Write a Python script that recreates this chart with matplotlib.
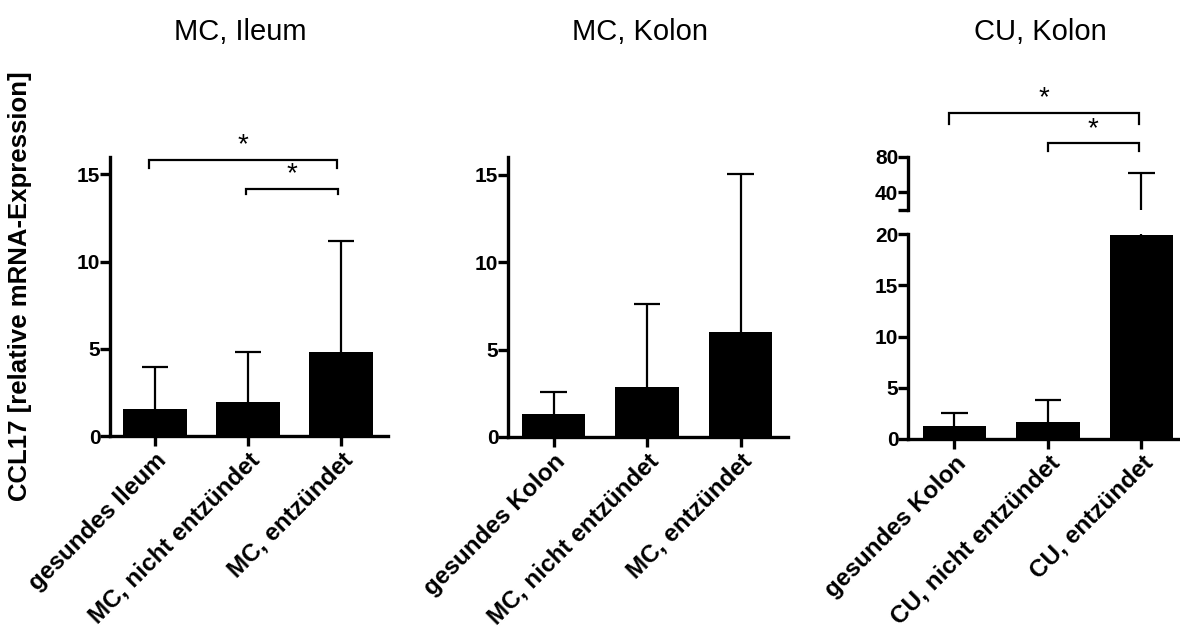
import numpy as np
import matplotlib
matplotlib.use('Agg')
import matplotlib.pyplot as plt

plt.rcParams['font.family'] = ['Liberation Sans', 'DejaVu Sans']

# groups and measured CCL17 expression (mean and upper SD) per tissue
titles = ['MC, Ileum', 'MC, Kolon', 'CU, Kolon']
groups_mc_ileum = ['gesundes Ileum', 'MC, nicht entzündet', 'MC, entzündet']
groups_mc_kolon = ['gesundes Kolon', 'MC, nicht entzündet', 'MC, entzündet']
groups_cu_kolon = ['gesundes Kolon', 'CU, nicht entzündet', 'CU, entzündet']

mean_mc_ileum = [1.55, 1.95, 4.83]
sd_mc_ileum = [2.42, 2.88, 6.37]
mean_mc_kolon = [1.3, 2.86, 6.02]
sd_mc_kolon = [1.27, 4.74, 9.03]
mean_cu_kolon = [1.27, 1.66, 19.9]
sd_cu_kolon = [1.23, 2.14, 42.1]

# significance brackets: (left x, right x, height, leg length)
brackets_mc_ileum = [(-0.07, 1.96, 15.83, 0.46), (0.98, 1.97, 14.16, 0.28)]
brackets_cu_kolon = [(-0.06, 1.97, 129.8, 12.4), (1.0, 1.97, 95.5, 8.7)]

W, H = 1180, 631
BAR_W = 0.68
CAP = 0.14
SPINE_W = 2.4


def px_axes(fig, left, right, top, bottom):
    return fig.add_axes([left / W, 1 - bottom / H, (right - left) / W, (bottom - top) / H])


def style(ax):
    for s in ['top', 'right']:
        ax.spines[s].set_visible(False)
    for s in ['left', 'bottom']:
        ax.spines[s].set_linewidth(SPINE_W)
    ax.tick_params(axis='y', length=7, width=SPINE_W, labelsize=15, pad=0)
    ax.tick_params(axis='x', length=7, width=SPINE_W, pad=2)
    for lab in ax.get_yticklabels():
        lab.set_fontweight('bold')


def bars(ax, means, sds):
    x = np.arange(len(means))
    means = np.asarray(means)
    tops = means + np.asarray(sds)
    ax.bar(x, means, width=BAR_W, color='black', linewidth=0, zorder=2)
    ax.vlines(x, means, tops, color='black', lw=1.6, zorder=3)
    ax.hlines(tops, x - CAP, x + CAP, color='black', lw=1.6, zorder=3)


def xlabels(ax, labels):
    ax.set_xticks(np.arange(len(labels)))
    ax.set_xticklabels(labels, rotation=45, ha='right', va='top',
                       rotation_mode='anchor', fontsize=17.5, fontweight='bold')


def bracket(ax, x0, x1, y, leg):
    ax.plot([x0, x0, x1, x1], [y - leg, y, y, y - leg], color='black', lw=1.6,
            clip_on=False, solid_joinstyle='miter')
    ax.annotate('*', xy=((x0 + x1) / 2, y), xytext=(0, 1), textcoords='offset points',
                ha='center', va='bottom', fontsize=20, annotation_clip=False)


fig = plt.figure(figsize=(W / 100, H / 100), dpi=100)

# MC, Ileum
ax1 = px_axes(fig, 110, 388, 157, 436)
bars(ax1, mean_mc_ileum, sd_mc_ileum)
ax1.set_xlim(-0.484, 2.505)
ax1.set_ylim(0, 16)
ax1.set_yticks([0, 5, 10, 15])
xlabels(ax1, groups_mc_ileum)
style(ax1)
for b in brackets_mc_ileum:
    bracket(ax1, *b)

# MC, Kolon
ax2 = px_axes(fig, 508, 788, 157, 437)
bars(ax2, mean_mc_kolon, sd_mc_kolon)
ax2.set_xlim(-0.487, 2.508)
ax2.set_ylim(0, 16)
ax2.set_yticks([0, 5, 10, 15])
xlabels(ax2, groups_mc_kolon)
style(ax2)

# CU, Kolon with broken y-axis
ax3 = px_axes(fig, 908, 1188, 234, 439)
ax3u = px_axes(fig, 908, 1188, 157, 210)
for a in (ax3, ax3u):
    bars(a, mean_cu_kolon, sd_cu_kolon)
    a.set_xlim(-0.497, 2.498)
ax3.set_ylim(0, 20)
ax3.set_yticks([0, 5, 10, 15, 20])
xlabels(ax3, groups_cu_kolon)
style(ax3)
ax3u.set_ylim(20, 80)
ax3u.set_yticks([20, 40, 80])
ax3u.set_yticklabels(['', '40', '80'])
style(ax3u)
ax3u.spines['bottom'].set_visible(False)
ax3u.tick_params(axis='x', bottom=False, labelbottom=False)
for b in brackets_cu_kolon:
    bracket(ax3u, *b)

for xc, t in zip([240, 640, 1040], titles):
    fig.text(xc / W, 1 - 32 / H, t, ha='center', va='center', fontsize=21)

fig.text(20 / W, 1 - 286 / H, 'CCL17 [relative mRNA-Expression]', rotation=90,
         ha='center', va='center', fontsize=18.5, fontweight='bold')

fig.savefig('out.png', dpi=100)
